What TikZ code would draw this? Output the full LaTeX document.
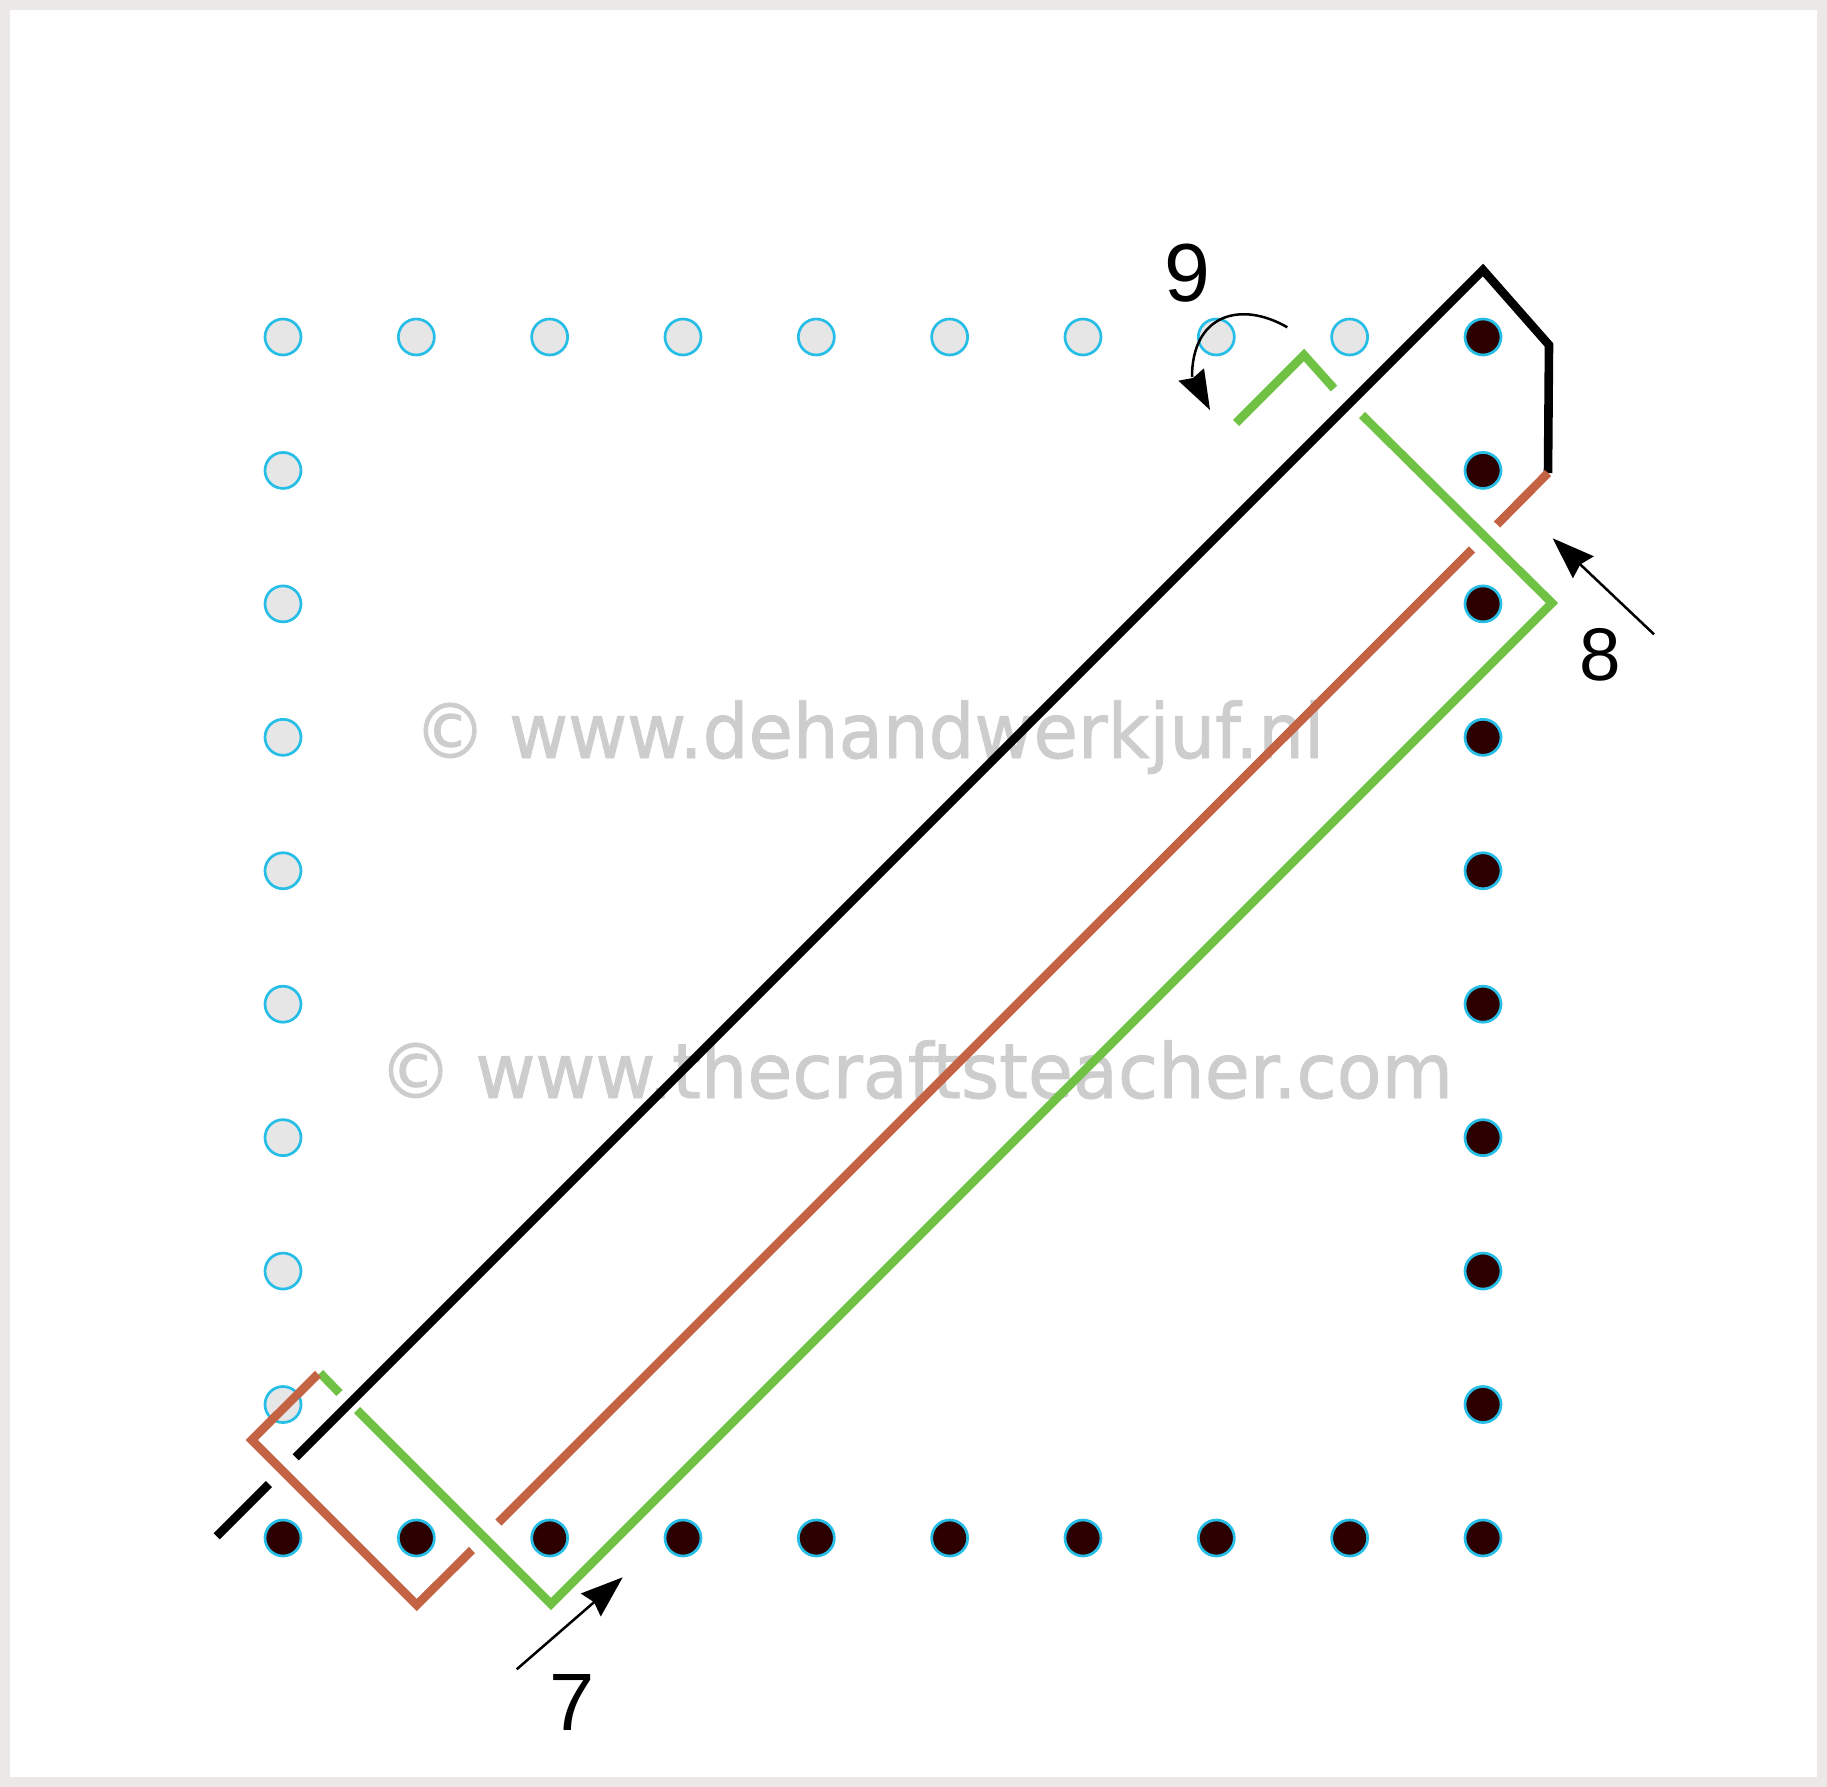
\documentclass[tikz,border=0pt]{standalone}
\usepackage{fontspec}
\setmainfont{Liberation Sans}
\newfontfamily\wmfont[FakeBold=1.2]{DejaVu Sans}
\usetikzlibrary{arrows.meta}
\definecolor{bordergray}{RGB}{236,232,231}
\definecolor{dotcyan}{RGB}{38,190,230}
\definecolor{dotlight}{RGB}{230,230,230}
\definecolor{dotdark}{RGB}{45,0,0}
\definecolor{thgreen}{RGB}{112,194,69}
\definecolor{thbrown}{RGB}{196,98,68}
\definecolor{wmgray}{RGB}{205,205,205}
\begin{document}
\begin{tikzpicture}[x=0.5pt,y=-0.5pt,
  thread/.style={line width=4.3pt, line cap=butt, line join=miter},
  blackthread/.style={thread, draw=black},
  greenthread/.style={thread, draw=thgreen},
  brownthread/.style={thread, draw=thbrown},
  hole/.style={circle, inner sep=0pt, minimum size=18pt, line width=1.35pt, draw=dotcyan},
  lighthole/.style={hole, fill=dotlight},
  darkhole/.style={hole, fill=dotdark},
  pointer/.style={line width=1.25pt, -{Stealth[length=21pt, width=15pt, inset=2pt]}},
  wm/.style={inner sep=0pt, text=wmgray, anchor=base},
  numlabel/.style={inner sep=0pt, text=black}]
% background and border
\fill[bordergray] (0,0) rectangle (1827,1787);
\fill[white] (10,10) rectangle (1817,1777);
\useasboundingbox (0,0) rectangle (1827,1787);
% watermarks
\node[wm] (wm1) at (869,758) {\resizebox{455pt}{\height}{\wmfont\fontsize{38}{42}\selectfont © www.dehandwerkjuf.nl}};
\node[wm] (wm2) at (916,1098) {\resizebox{537pt}{\height}{\wmfont\fontsize{38}{42}\selectfont © www.thecraftsteacher.com}};
% holes
\foreach \i in {0,...,8} \node[lighthole] (t\i) at ({283+133.33*\i},337) {};
\foreach \j in {1,...,8} \node[lighthole] (l\j) at (283,{337+133.44*\j}) {};
\foreach \j in {0,...,9} \node[darkhole] (r\j) at (1483,{337+133.44*\j}) {};
\foreach \i in {0,...,8} \node[darkhole] (b\i) at ({283+133.33*\i},1538) {};
% black thread
\draw[blackthread] (1548,473) -- (1549,345) -- (1483,270) -- (295.7,1457.3);
\draw[blackthread] (269,1484) -- (216.7,1536.3);
% green thread
\draw[greenthread] (1236,423) -- (1304,355) -- (1334,388.5);
\draw[greenthread] (1362,415) -- (1552,603) -- (551,1604) -- (357,1410);
\draw[greenthread] (339.5,1393) -- (320,1373);
% brown thread
\draw[brownthread] (1548,473) -- (1497,524.5);
\draw[brownthread] (1472,549.5) -- (498.5,1522.5);
\draw[brownthread] (472,1550) -- (416.7,1605) -- (251.7,1440) -- (318,1374);
% pointer arrows
\coordinate (a7s) at (516.7,1669.3);
\coordinate (a7e) at (622.7,1577.3);
\draw[pointer] (a7s) -- (a7e);
\coordinate (a8s) at (1654,634.3);
\coordinate (a8e) at (1552.7,538.3);
\draw[pointer] (a8s) -- (a8e);
\coordinate (a9s) at (1287.3,327.3);
\coordinate (a9e) at (1192,377);
\draw[line width=1.25pt] (a9s) .. controls (1240,300) and (1192,315) .. (a9e);
\fill[black] (1210,410) -- (1178.3,380.7) -- (1193,378) -- (1204,368.3) -- cycle;
% labels
\node[numlabel, font=\fontsize{40.7}{45}\selectfont] (n7) at (572,1702.5) {7};
\node[numlabel, font=\fontsize{37.3}{42}\selectfont] (n8) at (1600.3,654.5) {8};
\node[numlabel, font=\fontsize{41.2}{46}\selectfont] (n9) at (1187.5,273.3) {9};
\end{tikzpicture}
\end{document}
